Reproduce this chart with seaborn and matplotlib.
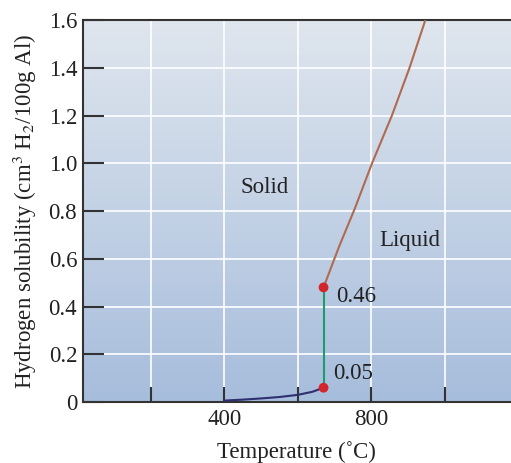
import matplotlib
matplotlib.use("Agg")
import matplotlib.pyplot as plt
import seaborn as sns
import numpy as np
from matplotlib.colors import LinearSegmentedColormap

# data
solid_T = [400, 450, 500, 550, 600, 640, 670]
solid_H = [0.006, 0.010, 0.015, 0.021, 0.030, 0.043, 0.06]
melt_T = [670, 670]
melt_H = [0.06, 0.48]
liquid_T = [670, 712, 755, 802, 856, 904, 947]
liquid_H = [0.48, 0.65, 0.81, 1.00, 1.20, 1.40, 1.60]
dot_T = [670, 670]
dot_H = [0.06, 0.48]
x_ticks = [200, 400, 600, 800, 1000]
x_labels = ["", "400", "", "800", ""]
y_ticks = [0, 0.2, 0.4, 0.6, 0.8, 1.0, 1.2, 1.4, 1.6]
y_labels = ["0", "0.2", "0.4", "0.6", "0.8", "1.0", "1.2", "1.4", "1.6"]

sns.set_style("ticks")
plt.rcParams['font.family'] = ['Liberation Serif', 'DejaVu Serif']
plt.rcParams['mathtext.fontset'] = 'stix'
fs = 16.5
txt = "#222222"

fig = plt.figure(figsize=(5.11, 4.63), dpi=100)
ax = fig.add_axes([0.162, 0.1317, 0.838, 0.8251])
xmin, xmax, ymin, ymax = 15, 1180, 0, 1.6

# gradient background
cmap = LinearSegmentedColormap.from_list("bg", ["#a7bddc", "#dfe6ee"])
grad = np.linspace(0, 1, 256).reshape(-1, 1)
ax.imshow(grad, extent=[xmin, xmax, ymin, ymax], origin="lower", aspect="auto",
          cmap=cmap, zorder=0)

sns.lineplot(x=solid_T, y=solid_H, ax=ax, color="#2e2f6e", lw=1.5,
             estimator=None, sort=False, zorder=3)
sns.lineplot(x=melt_T, y=melt_H, ax=ax, color="#1f9a6b", lw=1.5,
             estimator=None, sort=False, zorder=3)
sns.lineplot(x=liquid_T, y=liquid_H, ax=ax, color="#b06a52", lw=1.5,
             estimator=None, sort=False, zorder=3)
sns.scatterplot(x=dot_T, y=dot_H, ax=ax, color="#d3262b", s=50, edgecolor="none", zorder=4)

ax.set_xlim(xmin, xmax)
ax.set_ylim(ymin, ymax)
ax.set_xticks(x_ticks)
ax.set_xticklabels(x_labels)
ax.set_yticks(y_ticks)
ax.set_yticklabels(y_labels)
ax.grid(True, color="white", lw=1.2, zorder=1)
ax.set_axisbelow(True)
ax.tick_params(axis="x", direction="in", length=11, width=1.5, color="#333333",
               labelsize=fs, labelcolor=txt, pad=5)
ax.tick_params(axis="y", direction="in", length=15, width=1.5, color="#333333",
               labelsize=fs, labelcolor=txt, pad=4)
for s in ["left", "bottom", "top"]:
    ax.spines[s].set_color("#333333")
    ax.spines[s].set_linewidth(1.5)
ax.spines["right"].set_visible(False)

ax.text(511, 0.9, "Solid", fontsize=fs, ha="center", va="center", color=txt)
ax.text(905, 0.675, "Liquid", fontsize=fs, ha="center", va="center", color=txt)
ax.text(705, 0.44, "0.46", fontsize=fs, ha="left", va="center", color=txt)
ax.text(695, 0.12, "0.05", fontsize=fs, ha="left", va="center", color=txt)

ax.set_xlabel("Temperature (˚C)", fontsize=fs, color=txt, labelpad=8)
ax.set_ylabel("Hydrogen solubility (cm$^3$ H$_2$/100g Al)", fontsize=fs,
              color=txt, labelpad=7)

fig.savefig("out.png", dpi=100)
